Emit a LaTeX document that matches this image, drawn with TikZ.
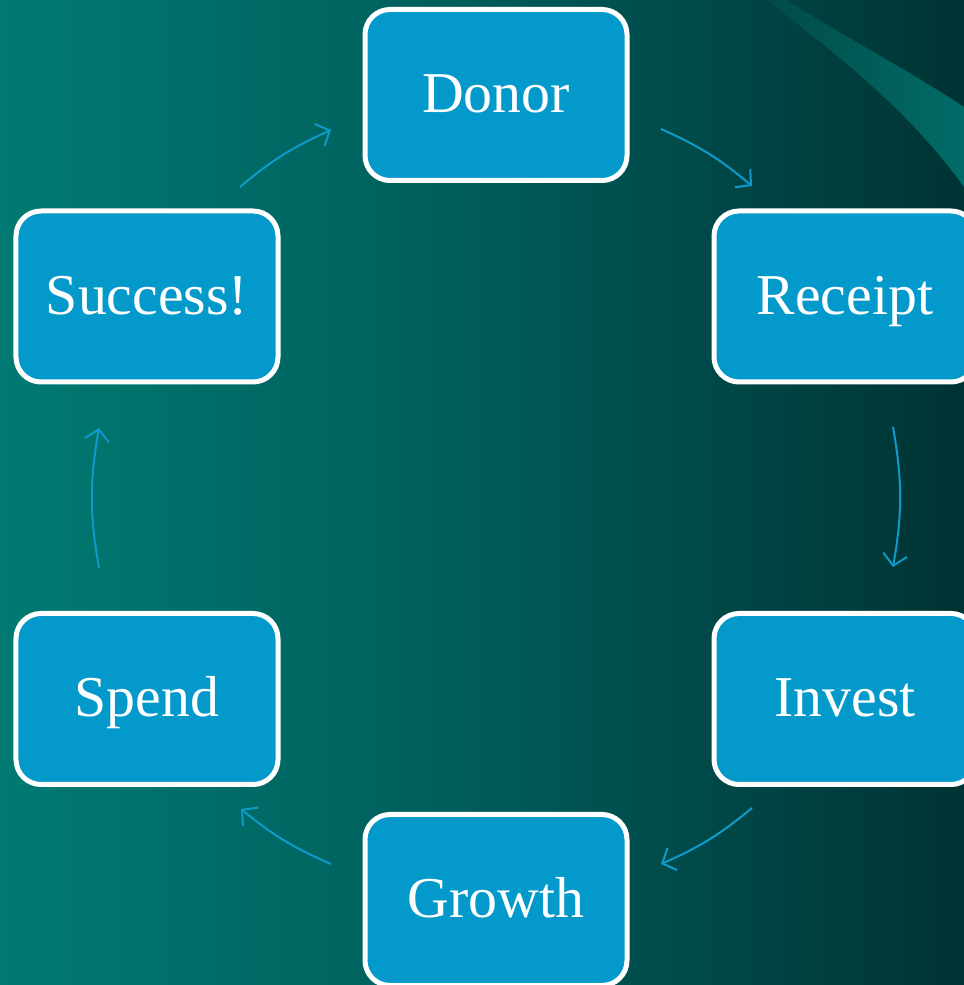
\documentclass[tikz,border=0pt]{standalone}
\usepackage{fontspec}
\setmainfont{Liberation Serif}
\usetikzlibrary{arrows.meta}
\definecolor{bgleft}{HTML}{007A72}
\definecolor{bgmid}{HTML}{005C5A}
\definecolor{bgright}{HTML}{003333}
\definecolor{boxfill}{HTML}{0399CB}
\definecolor{arrowc}{HTML}{0E9BCB}
\definecolor{wedgeL}{HTML}{014B49}
\definecolor{wedgeR}{HTML}{016C68}
\tikzset{
  stagebox/.style={draw=white, line width=5bp, fill=boxfill, rounded corners=25bp,
    minimum width=262bp, minimum height=171bp, text=white, inner sep=0pt,
    text height=40bp, text depth=4bp,
    font=\fontsize{58}{60}\selectfont},
  cyclearrow/.style={draw=arrowc, line width=2bp,
    -{Straight Barb[length=11bp,width=24bp,line width=2bp]}, bend left=8}
}
\begin{document}
\begin{tikzpicture}[x=1bp,y=1bp]
\useasboundingbox (0,0) rectangle (964,985);
\shade[left color=bgleft, right color=bgright, middle color=bgmid] (0,0) rectangle (964,985);
\shade[left color=wedgeL, right color=wedgeR]
  (767,985) .. controls (830,935) and (905,880) .. (964,798)
  -- (964,878) .. controls (900,920) and (840,950) .. (787,985) -- cycle;

\node[stagebox] (donor) at (496,890) {Donor};
\node[stagebox] (receipt) at (845,688.5) {Receipt};
\node[stagebox] (invest) at (845,286) {Invest};
\node[stagebox] (growth) at (496,85) {Growth};
\node[stagebox] (spend) at (147,286) {Spend};
\node[stagebox] (success) at (147,688.5) {Success!};

\coordinate (a1s) at (661,856); \coordinate (a1e) at (752,799);
\coordinate (a2s) at (893,558); \coordinate (a2e) at (893,418);
\coordinate (a3s) at (752,177); \coordinate (a3e) at (661,121);
\coordinate (a4s) at (331,121); \coordinate (a4e) at (241,176);
\coordinate (a5s) at (99,417);  \coordinate (a5e) at (99,557);
\coordinate (a6s) at (240,798); \coordinate (a6e) at (331,855);

\draw[cyclearrow] (a1s) to (a1e);
\draw[cyclearrow, bend left=10] (a2s) to (a2e);
\draw[cyclearrow] (a3s) to (a3e);
\draw[cyclearrow] (a4s) to (a4e);
\draw[cyclearrow, bend left=10] (a5s) to (a5e);
\draw[cyclearrow] (a6s) to (a6e);
\end{tikzpicture}
\end{document}
